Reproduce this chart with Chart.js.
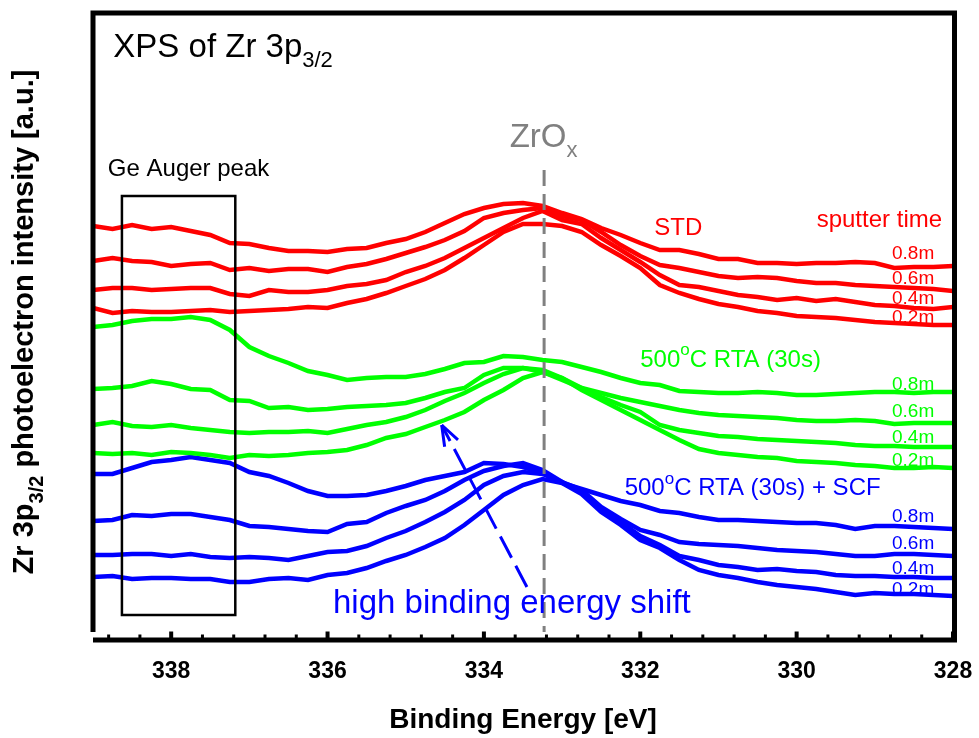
<!DOCTYPE html>
<html>
<head>
<meta charset="utf-8">
<title>XPS of Zr 3p3/2</title>
<script src="https://cdn.jsdelivr.net/npm/chart.js@4.4.1/dist/chart.umd.min.js"></script>
<style>
    html, body { margin: 0; padding: 0; background: #fff; }
    #wrap { width: 979px; height: 738px; position: relative; }
</style>
</head>
<body>
<div id="wrap"><canvas id="chart-xps"></canvas></div>
<script>
// binding energy (eV), every 0.25 eV
const bindingEnergy = [339, 338.75, 338.5, 338.25, 338, 337.75, 337.5, 337.25, 337, 336.75, 336.5, 336.25,
    336, 335.75, 335.5, 335.25, 335, 334.75, 334.5, 334.25, 334, 333.75, 333.5, 333.25, 333, 332.75, 332.5,
    332.25, 332, 331.75, 331.5, 331.25, 331, 330.75, 330.5, 330.25, 330, 329.75, 329.5, 329.25, 329, 328.75,
    328.5, 328.25, 328];

// STD (as deposited), stacked intensity [a.u.]
const std08 = [414, 411, 415, 411, 413, 409, 405, 397, 396, 392, 389, 389, 388, 391, 392, 397, 401, 408, 417, 426, 432, 436, 437, 434, 427, 421, 412, 405, 397, 390, 390, 386, 381, 381, 377, 377, 376, 377, 377, 378, 377, 372, 373, 373, 374];
const std06 = [379, 382, 379, 378, 374, 376, 377, 370, 372, 369, 371, 371, 368, 373, 376, 381, 387, 393, 400, 409, 422, 427, 430, 432, 424, 420, 408, 395, 384, 375, 372, 368, 364, 362, 363, 362, 359, 357, 357, 355, 354, 353, 352, 351, 349];
const std04 = [350, 352, 352, 350, 351, 352, 352, 346, 344, 350, 348, 348, 350, 354, 356, 360, 368, 374, 382, 392, 402, 412, 422, 429, 420, 416, 402, 390, 378, 365, 355, 353, 349, 345, 343, 340, 342, 339, 341, 338, 335, 334, 332, 331, 333];
const std02 = [332, 327, 329, 328, 328, 329, 330, 328, 329, 330, 331, 333, 332, 337, 341, 347, 354, 361, 370, 382, 395, 408, 416, 416, 414, 408, 395, 384, 372, 355, 347, 341, 336, 333, 329, 327, 324, 323, 322, 320, 318, 317, 316, 315, 315];

// 500oC RTA (30s)
const rta08 = [313, 315, 319, 321, 321, 323, 320, 310, 293, 284, 277, 269, 265, 260, 262, 263, 263, 266, 271, 277, 278, 284, 283, 280, 278, 273, 268, 262, 257, 255, 249, 248, 247, 247, 248, 247, 245, 245, 246, 247, 248, 248, 247, 248, 248];
const rta06 = [251, 252, 254, 259, 256, 251, 250, 240, 239, 232, 233, 230, 231, 233, 234, 235, 237, 242, 248, 252, 265, 272, 272, 268, 260, 252, 247, 242, 238, 234, 230, 227, 225, 224, 223, 222, 220, 219, 219, 220, 219, 216, 217, 217, 217];
const rta04 = [215, 218, 214, 213, 215, 212, 210, 208, 207, 208, 208, 209, 207, 211, 215, 218, 223, 230, 239, 247, 257, 266, 272, 270, 262, 252, 243, 235, 228, 215, 210, 207, 204, 203, 201, 200, 199, 198, 197, 195, 194, 194, 193, 193, 193];
const rta02 = [187, 186, 187, 185, 188, 187, 185, 182, 185, 184, 185, 187, 188, 190, 195, 202, 206, 213, 220, 228, 240, 250, 262, 268, 262, 250, 240, 230, 220, 210, 200, 191, 187, 185, 183, 182, 179, 178, 177, 175, 174, 172, 172, 173, 172];

// 500oC RTA (30s) + SCF
const scf08 = [166, 166, 172, 178, 180, 183, 180, 177, 168, 164, 157, 149, 144, 144, 145, 149, 154, 160, 164, 168, 177, 176, 173, 167, 157, 151, 145, 139, 135, 129, 127, 123, 120, 120, 119, 118, 117, 117, 115, 111, 114, 114, 113, 112, 111];
const scf06 = [119, 120, 125, 124, 126, 126, 123, 120, 114, 113, 111, 109, 108, 116, 118, 127, 134, 140, 149, 160, 169, 174, 177, 170, 158, 150, 133, 121, 110, 105, 98, 96, 95, 94, 92, 90, 89, 88, 86, 84, 84, 86, 86, 85, 84];
const scf04 = [85, 85, 86, 86, 84, 86, 83, 82, 83, 82, 80, 84, 88, 89, 94, 102, 109, 118, 128, 140, 155, 164, 168, 166, 158, 147, 130, 118, 104, 95, 84, 80, 75, 73, 70, 71, 69, 68, 65, 64, 64, 63, 63, 62, 62];
const scf02 = [63, 64, 61, 62, 62, 61, 61, 58, 58, 61, 62, 60, 65, 67, 72, 79, 85, 93, 102, 115, 130, 145, 155, 161, 157, 146, 128, 115, 100, 92, 80, 70, 65, 62, 58, 55, 53, 51, 48, 45, 47, 46, 46, 45, 44];

const sputterTimes = ['0.8m', '0.6m', '0.4m', '0.2m'];
const tickLabels = [338, 336, 334, 332, 330, 328];

const RED = '#ff0000', GREEN = '#00ff00', BLUE = '#0000ff';
const groups = [
    { color: RED, series: [std08, std06, std04, std02] },
    { color: GREEN, series: [rta08, rta06, rta04, rta02] },
    { color: BLUE, series: [scf08, scf06, scf04, scf02] }
];

function font(size, bold) {
    return (bold ? 'bold ' : '') + size + 'px "Liberation Sans", Arial, sans-serif';
}

// text made of pieces (for sub/superscripts)
function richText(ctx, parts, x, y, align) {
    let w = 0;
    parts.forEach(p => { ctx.font = p.font; p.w = ctx.measureText(p.text).width; w += p.w; });
    let cx = align === 'center' ? x - w / 2 : (align === 'right' ? x - w : x);
    ctx.textAlign = 'left';
    parts.forEach(p => {
        ctx.font = p.font;
        ctx.fillText(p.text, cx, y + (p.dy || 0));
        cx += p.w;
    });
}

const datasets = [];
groups.forEach(g => {
    g.series.forEach((s, k) => {
        datasets.push({
            label: sputterTimes[k],
            data: bindingEnergy.map((e, i) => ({ x: e, y: s[i] })),
            borderColor: g.color,
            borderWidth: 4.5,
            pointRadius: 0,
            tension: 0,
            fill: false
        });
    });
});

const annotate = {
    id: 'annotate',
    beforeDatasetsDraw(chart) {
        const { ctx } = chart;
        const X = v => chart.scales.x.getPixelForValue(v);
        const Y = v => chart.scales.y.getPixelForValue(v);
        // sputter time labels (curves run over them)
        const rows = [[381, 356, 336, 317], [250, 223, 197, 174], [118, 91, 66, 45]];
        ctx.save();
        ctx.font = font(19);
        ctx.textAlign = 'right';
        ctx.textBaseline = 'alphabetic';
        rows.forEach((row, g) => {
            ctx.fillStyle = groups[g].color;
            row.forEach((v, k) => ctx.fillText(sputterTimes[k], X(328.24), Y(v)));
        });
        ctx.restore();
    },
    afterDatasetsDraw(chart) {
        const { ctx, chartArea } = chart;
        const xs = chart.scales.x;
        const X = v => xs.getPixelForValue(v);
        const Y = v => chart.scales.y.getPixelForValue(v);
        ctx.save();
        ctx.textBaseline = 'alphabetic';

        // frame
        ctx.strokeStyle = '#000';
        ctx.lineWidth = 5;
        ctx.beginPath();
        ctx.moveTo(chartArea.left, chartArea.bottom - 8);
        ctx.lineTo(chartArea.left, chartArea.top);
        ctx.lineTo(chartArea.right + 1.5, chartArea.top);
        ctx.lineTo(chartArea.right + 1.5, chartArea.bottom);
        ctx.moveTo(chartArea.left, chartArea.bottom);
        ctx.lineTo(chartArea.right + 4, chartArea.bottom);
        ctx.stroke();

        // inward ticks: major every 2 eV, minor every 0.4 eV
        for (let k = 0; k < tickLabels.length; k++) {
            const m = tickLabels[k];
            ctx.lineWidth = 4;
            ctx.beginPath();
            ctx.moveTo(X(m), chartArea.bottom);
            ctx.lineTo(X(m), chartArea.bottom - 8.5);
            ctx.stroke();
            ctx.lineWidth = 3;
            for (let j = 1; j <= 4; j++) {
                const v = m + j * 0.4;
                if (v > xs.max) break;
                ctx.beginPath();
                ctx.moveTo(X(v), chartArea.bottom);
                ctx.lineTo(X(v), chartArea.bottom - 5.5);
                ctx.stroke();
            }
        }

        // Ge Auger box
        ctx.lineWidth = 2.5;
        ctx.strokeRect(X(338.63), Y(444), X(337.18) - X(338.63), Y(25) - Y(444));

        // ZrOx reference line
        ctx.strokeStyle = '#808080';
        ctx.lineWidth = 3;
        ctx.setLineDash([16, 8]);
        ctx.beginPath();
        ctx.moveTo(X(333.23), Y(470));
        ctx.lineTo(X(333.23), Y(8));
        ctx.stroke();

        // shift arrow
        const tx = X(334.54), ty = Y(215), bx = X(333.45), by = Y(53);
        ctx.strokeStyle = BLUE;
        ctx.lineWidth = 3;
        ctx.setLineDash([24, 9]);
        ctx.beginPath();
        ctx.moveTo(bx, by);
        ctx.lineTo(tx, ty);
        ctx.stroke();
        ctx.setLineDash([]);
        const ang = Math.atan2(by - ty, bx - tx);
        ctx.beginPath();
        [ang - 0.35, ang + 0.35].forEach(a => {
            ctx.moveTo(tx, ty);
            ctx.lineTo(tx + 22 * Math.cos(a), ty + 22 * Math.sin(a));
        });
        ctx.stroke();

        // texts
        ctx.fillStyle = '#000';
        richText(ctx, [{ text: 'XPS of Zr 3p', font: font(33) }, { text: '3/2', font: font(22), dy: 10 }], X(338.74), Y(583), 'left');
        ctx.font = font(24);
        ctx.fillText('Ge Auger peak', X(338.81), Y(464));

        ctx.fillStyle = '#808080';
        richText(ctx, [{ text: 'ZrO', font: font(33) }, { text: 'x', font: font(22), dy: 10 }], X(333.67), Y(493), 'left');

        ctx.fillStyle = RED;
        ctx.font = font(24);
        ctx.fillText('STD', X(331.82), Y(405));
        ctx.textAlign = 'right';
        ctx.fillText('sputter time', X(328.14), Y(413));

        ctx.fillStyle = GREEN;
        richText(ctx, [{ text: '500', font: font(24) }, { text: 'o', font: font(17), dy: -12 }, { text: 'C RTA (30s)', font: font(24) }], X(332.00), Y(273), 'left');

        ctx.fillStyle = BLUE;
        richText(ctx, [{ text: '500', font: font(24) }, { text: 'o', font: font(17), dy: -11 }, { text: 'C RTA (30s) + SCF', font: font(24) }], X(332.20), Y(145), 'left');
        ctx.font = font(33);
        ctx.fillText('high binding energy shift', X(335.93), Y(27));

        // y axis title
        ctx.fillStyle = '#000';
        ctx.translate(33, 322);
        ctx.rotate(-Math.PI / 2);
        richText(ctx, [
            { text: 'Zr 3p', font: font(29, true) },
            { text: '3/2', font: font(20, true), dy: 10 },
            { text: ' photoelectron intensity [a.u.]', font: font(29, true) }
        ], 0, 0, 'center');
        ctx.restore();
    }
};

const ctx1 = document.getElementById('chart-xps');

new Chart(ctx1, {
    type: 'line',
    data: { datasets: datasets },
    options: {
        responsive: true,
        maintainAspectRatio: false,
        animation: false,
        layout: { padding: { left: 93, top: 13, right: 26, bottom: 0 } },
        scales: {
            x: {
                type: 'linear',
                reverse: true,
                min: 328,
                max: 339,
                afterBuildTicks: s => { s.ticks = tickLabels.map(v => ({ value: v })); },
                afterFit: s => { s.height = 98; s.paddingLeft = 0; s.paddingRight = 0; },
                grid: { display: false, drawTicks: false },
                border: { display: false },
                ticks: {
                    color: '#000',
                    font: { family: '"Liberation Sans", Arial, sans-serif', size: 23, weight: 'bold' },
                    padding: 18,
                    maxRotation: 0,
                    autoSkip: false
                },
                title: {
                    display: true,
                    text: 'Binding Energy [eV]',
                    color: '#000',
                    font: { family: '"Liberation Sans", Arial, sans-serif', size: 28, weight: 'bold' },
                    padding: { top: 0, bottom: 1 }
                }
            },
            y: {
                display: false,
                min: 0,
                max: 627
            }
        },
        plugins: {
            legend: { display: false },
            tooltip: { enabled: false }
        }
    },
    plugins: [annotate]
});
</script>
</body>
</html>
